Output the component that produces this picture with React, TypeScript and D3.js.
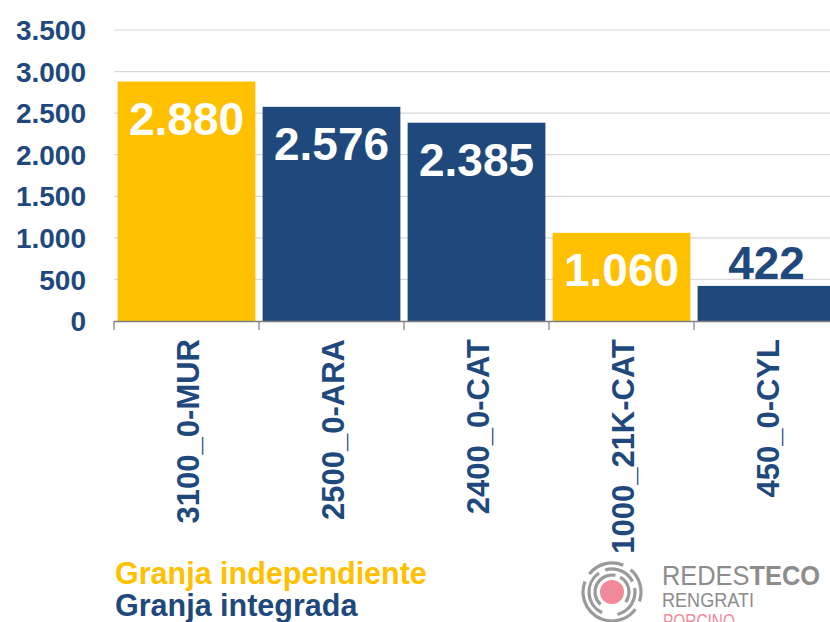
import React, { useEffect, useRef } from 'react';
import * as d3 from 'd3';

const categories = ['3100_0-MUR', '2500_0-ARA', '2400_0-CAT', '1000_21K-CAT', '450_0-CYL'];
const values = [2880, 2576, 2385, 1060, 422];
const farmType = ['independiente', 'integrada', 'integrada', 'independiente', 'integrada'];
const yTicks = [0, 500, 1000, 1500, 2000, 2500, 3000, 3500];
const legendLabels = ['Granja independiente', 'Granja integrada'];

const YELLOW = '#FFC000';
const NAVY = '#1F497D';
const FONT = '"Liberation Sans", Arial, sans-serif';

const fmt = (v: number) => d3.format(',')(v).replace(/,/g, '.');

const App = () => {
  const ref = useRef<SVGSVGElement>(null);

  useEffect(() => {
    const svg = d3.select(ref.current);
    svg.selectAll('*').remove();

    const x = d3.scaleBand<string>()
      .domain(categories)
      .range([114, 839])
      .paddingInner(0.05)
      .paddingOuter(0.025);

    const y = d3.scaleLinear().domain([0, 3500]).range([321, 30]);

    // gridlines
    svg.append('g')
      .selectAll('line')
      .data(yTicks.slice(1))
      .join('line')
      .attr('x1', 114)
      .attr('x2', 830)
      .attr('y1', d => y(d))
      .attr('y2', d => y(d))
      .attr('stroke', '#D9D9D9')
      .attr('stroke-width', 1.2);

    // y tick labels
    svg.append('g')
      .selectAll('text')
      .data(yTicks)
      .join('text')
      .attr('x', 86)
      .attr('y', d => y(d))
      .attr('dy', '0.36em')
      .attr('text-anchor', 'end')
      .attr('font-family', FONT)
      .attr('font-weight', 'bold')
      .attr('font-size', 28)
      .attr('fill', NAVY)
      .text(d => fmt(d));

    // bars
    svg.append('g')
      .selectAll('rect')
      .data(categories)
      .join('rect')
      .attr('x', d => x(d)!)
      .attr('width', x.bandwidth())
      .attr('y', (d, i) => y(values[i]))
      .attr('height', (d, i) => y(0) - y(values[i]))
      .attr('fill', (d, i) => (farmType[i] === 'independiente' ? YELLOW : NAVY));

    // value labels
    svg.append('g')
      .selectAll('text')
      .data(categories)
      .join('text')
      .attr('x', d => x(d)! + x.bandwidth() / 2)
      .attr('y', (d, i) => (values[i] > 800 ? y(values[i]) + 53 : y(values[i]) - 7))
      .attr('text-anchor', 'middle')
      .attr('font-family', FONT)
      .attr('font-weight', 'bold')
      .attr('font-size', 46)
      .attr('fill', (d, i) => (values[i] > 800 ? '#FFFFFF' : NAVY))
      .text((d, i) => fmt(values[i]));

    // x axis
    const step = x.step();
    const bounds = d3.range(categories.length + 1).map(i => 114 + i * step);
    svg.append('line')
      .attr('x1', 114).attr('x2', 830)
      .attr('y1', 321.5).attr('y2', 321.5)
      .attr('stroke', '#7F7F7F').attr('stroke-width', 1.5);
    svg.append('g')
      .selectAll('line')
      .data(bounds)
      .join('line')
      .attr('x1', d => d).attr('x2', d => d)
      .attr('y1', 321).attr('y2', 330)
      .attr('stroke', '#7F7F7F').attr('stroke-width', 1.2);

    svg.append('g')
      .selectAll('text')
      .data(categories)
      .join('text')
      .attr('transform', d => `translate(${x(d)! + x.bandwidth() / 2 + 12},339) rotate(-90)`)
      .attr('text-anchor', 'end')
      .attr('font-family', FONT)
      .attr('font-weight', 'bold')
      .attr('font-size', 31)
      .attr('fill', NAVY)
      .text(d => d);

    // legend
    svg.append('g')
      .selectAll('text')
      .data(legendLabels)
      .join('text')
      .attr('x', 115)
      .attr('y', (d, i) => 584 + i * 32)
      .attr('font-family', FONT)
      .attr('font-weight', 'bold')
      .attr('font-size', 30.5)
      .attr('fill', (d, i) => (i === 0 ? YELLOW : NAVY))
      .text(d => d);

    // logo
    const logo = svg.append('g').attr('transform', 'translate(612,592)');
    logo.append('circle').attr('r', 12).attr('fill', '#F08A9B');
    const ringArcs = [
      { r: 17, a0: -2.4, a1: 0.2 }, { r: 17, a0: 0.5, a1: 2.2 },
      { r: 23, a0: -2.7, a1: -0.6 }, { r: 23, a0: -0.3, a1: 1.1 }, { r: 23, a0: 1.4, a1: 2.9 },
      { r: 29, a0: -3.0, a1: -1.2 }, { r: 29, a0: -0.9, a1: 0.4 }, { r: 29, a0: 0.7, a1: 1.9 }, { r: 29, a0: 2.2, a1: 3.3 },
    ];
    const arc = d3.arc<any>()
      .innerRadius(d => d.r - 1.6)
      .outerRadius(d => d.r + 1.6)
      .startAngle(d => d.a0)
      .endAngle(d => d.a1);
    logo.selectAll('path')
      .data(ringArcs)
      .join('path')
      .attr('d', arc)
      .attr('fill', '#9A9A9A');

    const t1 = svg.append('text')
      .attr('x', 662).attr('y', 585)
      .attr('font-family', FONT)
      .attr('font-size', 28)
      .attr('textLength', 158)
      .attr('lengthAdjust', 'spacingAndGlyphs')
      .attr('fill', '#8C8C8C');
    t1.append('tspan').attr('font-weight', 'normal').text('REDES');
    t1.append('tspan').attr('font-weight', 'bold').text('TECO');
    svg.append('text')
      .attr('x', 662).attr('y', 607)
      .attr('font-family', FONT)
      .attr('font-size', 21)
      .attr('textLength', 92)
      .attr('lengthAdjust', 'spacingAndGlyphs')
      .attr('fill', '#8C8C8C')
      .text('RENGRATI');
    svg.append('text')
      .attr('x', 663).attr('y', 628)
      .attr('font-family', FONT)
      .attr('font-size', 21)
      .attr('textLength', 72)
      .attr('lengthAdjust', 'spacingAndGlyphs')
      .attr('fill', '#F08A9B')
      .text('PORCINO');
  }, []);

  return (
    <svg
      ref={ref}
      width={830}
      height={622}
      style={{ position: 'absolute', left: 0, top: 0, background: '#fff' }}
    />
  );
};

export default App;
